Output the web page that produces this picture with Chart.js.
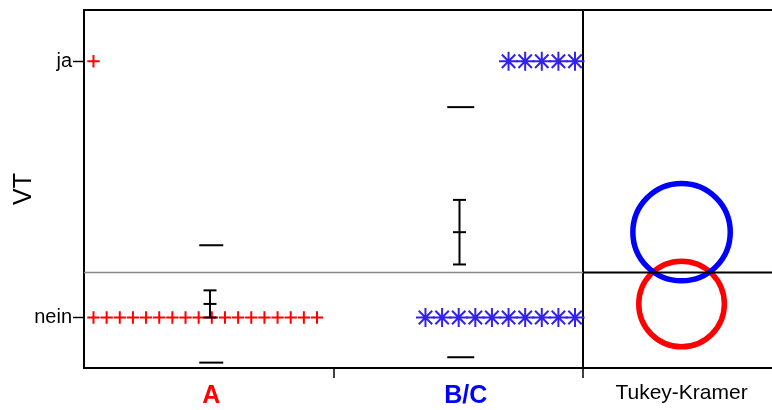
<!DOCTYPE html>
<html lang="de">
<head>
    <meta charset="UTF-8">
    <title>VT nach Gruppe</title>
    <script src="https://cdn.jsdelivr.net/npm/chart.js@4"></script>
    <style>
        html, body { margin: 0; padding: 0; background: #fff; }
        #chart { display: block; }
    </style>
</head>
<body>
    <canvas id="chart" width="772" height="410"></canvas>
    <script>
        // groups and response levels (nein = 0, ja = 1)
        var groups = ['A', 'B/C'];
        var levels = ['nein', 'ja'];
        var neinCounts = [18, 10];
        var jaCounts = [1, 5];

        // group summaries on the 0/1 scale
        var means = [0.053, 0.333];
        var stdDevs = [0.229, 0.488];
        var stdErrs = [0.053, 0.126];
        var grandMean = 0.176;

        // Tukey-Kramer comparison circle radii (y units)
        var circleRadii = [0.167, 0.19];

        // x axis labels: group names plus the circles panel
        var xLabels = ['A', '', 'B/C', '', 'Tukey-Kramer'];

        // ---- layout only below here ----
        var font = "'Liberation Sans', Arial, sans-serif";
        var groupColors = ['#ff0000', '#3322ee'];
        var labelColors = ['#ff0000', '#000', '#0000ff', '#000', '#000'];
        var circleColors = ['#ff0000', '#0000ff'];
        var xTickValues = [0.51, 1, 1.53, 2, 2.395];
        var circleX = 2.395;
        var xMax = 2.7575;
        var yMin = -0.197, yMax = 1.2;

        // how points are spread inside a category (fraction of category width)
        var spread = [
            { from: 'left', at: 0.038, step: 0.0527 },
            { from: 'right', at: 0.968, step: 0.0666 }
        ];

        function spreadPoints(g, n, level) {
            var pts = [];
            var s = spread[g];
            for (var i = 0; i < n; i++) {
                var off = s.from === 'left' ? s.at + i * s.step : s.at - (n - 1 - i) * s.step;
                pts.push({ x: g + off, y: level });
            }
            return pts;
        }

        var datasets = [];

        // grand mean line: gray in the groups panel, black in the circles panel
        datasets.push({
            data: [{ x: 0, y: grandMean }, { x: 2, y: grandMean }],
            showLine: true, borderColor: '#888', borderWidth: 1.5, pointRadius: 0, order: 1
        });
        datasets.push({
            data: [{ x: 2, y: grandMean }, { x: xMax, y: grandMean }],
            showLine: true, borderColor: '#000', borderWidth: 2, pointRadius: 0, order: 0
        });

        groups.forEach(function (g, i) {
            // standard error bar with mean tick
            datasets.push({
                data: [
                    { x: i + 0.505, y: means[i] - stdErrs[i] },
                    { x: i + 0.505, y: means[i] },
                    { x: i + 0.505, y: means[i] + stdErrs[i] }
                ],
                showLine: true, borderColor: '#000', borderWidth: 2,
                pointStyle: 'line', pointRadius: 6.5, pointBorderColor: '#000', pointBorderWidth: 2,
                order: 2
            });
            // mean +/- one standard deviation
            datasets.push({
                data: [
                    { x: i + 0.51, y: means[i] + stdDevs[i] },
                    { x: i + 0.51, y: means[i] - stdDevs[i] }
                ],
                pointStyle: 'line', pointRadius: i === 0 ? 12 : 13.5,
                pointBorderColor: '#000', pointBorderWidth: 2, order: 3
            });
            // individual responses
            var marker = i === 0 ? 'cross' : 'star';
            var size = i === 0 ? 6.2 : 9.5;
            datasets.push({
                data: spreadPoints(i, neinCounts[i], 0).concat(spreadPoints(i, jaCounts[i], 1)),
                pointStyle: marker, pointRadius: size,
                pointBorderColor: groupColors[i], pointBackgroundColor: groupColors[i],
                pointBorderWidth: 2, order: 4
            });
            // Tukey-Kramer comparison circle
            datasets.push({
                data: [{ x: circleX, y: means[i] }],
                pointStyle: 'circle',
                pointRadius: function (ctx) {
                    var s = ctx.chart.scales.y;
                    return Math.abs(s.getPixelForValue(0) - s.getPixelForValue(circleRadii[i]));
                },
                pointBorderColor: circleColors[i], pointBackgroundColor: 'rgba(0,0,0,0)',
                pointBorderWidth: 5.5, order: 5 + (1 - i)
            });
        });

        var ctx = document.getElementById('chart').getContext('2d');
        var chart = new Chart(ctx, {
            type: 'scatter',
            data: { datasets: datasets },
            options: {
                responsive: false,
                animation: false,
                devicePixelRatio: 1,
                events: [],
                layout: { autoPadding: false, padding: { left: 0, right: 0, top: 10, bottom: 0 } },
                plugins: { legend: { display: false }, tooltip: { enabled: false } },
                scales: {
                    x: {
                        type: 'linear', position: 'bottom', min: 0, max: xMax,
                        afterBuildTicks: function (s) {
                            s.ticks = xTickValues.map(function (v) { return { value: v }; });
                        },
                        afterFit: function (s) { s.height = 42; s.paddingLeft = 0; s.paddingRight = 0; },
                        ticks: {
                            autoSkip: false, maxRotation: 0, minRotation: 0, padding: 3,
                            callback: function (v, i) { return xLabels[i]; },
                            color: function (c) { return labelColors[c.index]; },
                            font: function (c) {
                                return c.index === 4 ? { family: font, size: 21 } : { family: font, size: 25, weight: 'bold' };
                            }
                        },
                        grid: {
                            lineWidth: 2,
                            color: function (c) { return c.tick && c.tick.value === 2 ? '#000' : 'rgba(0,0,0,0)'; },
                            drawTicks: true, tickLength: 10, tickWidth: 1.5,
                            tickColor: function (c) {
                                return c.tick && (c.tick.value === 1 || c.tick.value === 2) ? '#000' : 'rgba(0,0,0,0)';
                            }
                        },
                        border: { display: true, color: '#000', width: 2 }
                    },
                    xTop: {
                        type: 'linear', position: 'top', min: 0, max: 1,
                        afterFit: function (s) { s.height = 0; s.paddingLeft = 0; s.paddingRight = 0; },
                        ticks: { display: false },
                        grid: { drawOnChartArea: false, drawTicks: false },
                        border: { display: true, color: '#000', width: 2 }
                    },
                    y: {
                        type: 'linear', position: 'left', min: yMin, max: yMax,
                        afterBuildTicks: function (s) { s.ticks = [{ value: 0 }, { value: 1 }]; },
                        afterFit: function (s) { s.width = 84; s.paddingTop = 0; s.paddingBottom = 0; },
                        ticks: {
                            padding: 1, color: '#000', font: { family: font, size: 20 },
                            callback: function (v) { return levels[v]; }
                        },
                        grid: { drawOnChartArea: false, drawTicks: true, tickLength: 11, tickColor: '#000', tickWidth: 1.5 },
                        border: { display: true, color: '#000', width: 2 },
                        title: {
                            display: true, text: 'VT', color: '#000',
                            font: { family: font, size: 25 }, padding: { top: 9, bottom: 0 }
                        }
                    }
                }
            }
        });
    </script>
</body>
</html>
